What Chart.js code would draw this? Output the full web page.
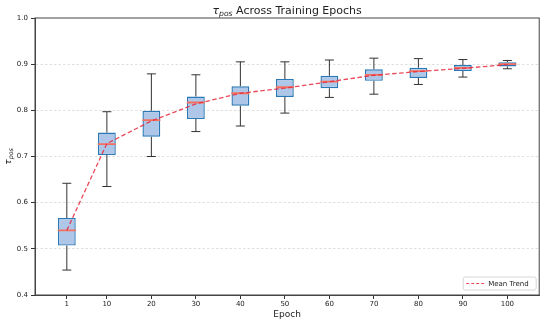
<!DOCTYPE html>
<html>
<head>
<meta charset="utf-8">
<script src="https://cdn.jsdelivr.net/npm/chart.js@4.4.0/dist/chart.umd.min.js"></script>
<style>
  html, body { margin: 0; padding: 0; background: #fff; }
</style>
</head>
<body>
<canvas id="tauChart" width="550" height="323"></canvas>
<script>
// box plot stats per epoch
const epochs = [1, 10, 20, 30, 40, 50, 60, 70, 80, 90, 100];
const whiskerLow  = [0.454, 0.635, 0.700, 0.754, 0.766, 0.794, 0.828, 0.835, 0.856, 0.872, 0.890];
const q1          = [0.507, 0.703, 0.743, 0.781, 0.810, 0.829, 0.848, 0.864, 0.870, 0.885, 0.895];
const medians     = [0.540, 0.727, 0.779, 0.817, 0.837, 0.850, 0.862, 0.877, 0.885, 0.892, 0.900];
const q3          = [0.567, 0.752, 0.799, 0.830, 0.852, 0.868, 0.875, 0.889, 0.892, 0.898, 0.904];
const whiskerHigh = [0.642, 0.797, 0.879, 0.877, 0.905, 0.905, 0.909, 0.913, 0.912, 0.910, 0.908];
const meanTrend   = [0.540, 0.728, 0.777, 0.814, 0.837, 0.848, 0.862, 0.876, 0.884, 0.891, 0.899];
const yTicks = [0.4, 0.5, 0.6, 0.7, 0.8, 0.9, 1.0];

const FONT = 'DejaVu Sans';
const TREND_COLOR = 'rgba(232, 40, 60, 0.85)';

const boxData = epochs.map((e, i) => ({ x: e, y: [q1[i], q3[i]] }));
const whiskerData = epochs.flatMap((e, i) => [
  { x: e, y: [whiskerLow[i], q1[i]] },
  { x: e, y: [q3[i], whiskerHigh[i]] }
]);
const capData = epochs.flatMap((e, i) => [
  { x: e, y: whiskerLow[i] },
  { x: e, y: whiskerHigh[i] }
]);
const medianData = epochs.map((e, i) => ({ x: e, y: medians[i] }));
const trendData = epochs.map((e, i) => ({ x: e, y: meanTrend[i] }));

// draws "τ_pos" (+ optional trailing text) centred on cx
function drawTauText(ctx, cx, cy, size, rest) {
  const big = 'italic ' + size + 'px "' + FONT + '"';
  const plain = size + 'px "' + FONT + '"';
  const small = 'italic ' + (size * 0.7) + 'px "' + FONT + '"';
  ctx.font = big;
  const wT = ctx.measureText('τ').width;
  ctx.font = small;
  const wS = ctx.measureText('pos').width;
  ctx.font = plain;
  const wR = rest ? ctx.measureText(rest).width : 0;
  let x = cx - (wT + wS + wR) / 2;
  const base = cy + size * 0.35;
  ctx.textAlign = 'left';
  ctx.textBaseline = 'alphabetic';
  ctx.font = big;
  ctx.fillText('τ', x, base);
  x += wT;
  ctx.font = small;
  ctx.fillText('pos', x, base + size * 0.22);
  x += wS;
  if (rest) {
    ctx.font = plain;
    ctx.fillText(rest, x, base);
  }
}

const decorations = {
  id: 'decorations',
  afterDraw(chart) {
    const { ctx, chartArea: a } = chart;
    ctx.save();
    // top / right spines
    ctx.strokeStyle = '#444';
    ctx.lineWidth = 1;
    ctx.strokeRect(a.left, a.top, a.right - a.left, a.bottom - a.top);

    ctx.fillStyle = '#222';
    drawTauText(ctx, (a.left + a.right) / 2, 10, 11, ' Across Training Epochs');

    ctx.save();
    ctx.translate(8, (a.top + a.bottom) / 2);
    ctx.rotate(-Math.PI / 2);
    drawTauText(ctx, 0, 0, 9, '');
    ctx.restore();

    // legend, lower right inside the axes
    const lw = 73, lh = 13;
    const lx = a.right - 3 - lw, ly = a.bottom - 5 - lh;
    ctx.beginPath();
    ctx.roundRect(lx, ly, lw, lh, 2);
    ctx.fillStyle = 'rgba(255,255,255,0.85)';
    ctx.fill();
    ctx.strokeStyle = '#d6d6d6';
    ctx.stroke();
    ctx.beginPath();
    ctx.setLineDash([3, 2]);
    ctx.strokeStyle = TREND_COLOR;
    ctx.lineWidth = 1.2;
    ctx.moveTo(lx + 3, ly + lh / 2);
    ctx.lineTo(lx + 21, ly + lh / 2);
    ctx.stroke();
    ctx.setLineDash([]);
    ctx.fillStyle = '#222';
    ctx.font = '7px "' + FONT + '"';
    ctx.textBaseline = 'middle';
    ctx.fillText('Mean Trend', lx + 25, ly + lh / 2 + 0.5);
    ctx.restore();
  }
};

const ctx = document.getElementById('tauChart').getContext('2d');
const tauChart = new Chart(ctx, {
  type: 'bar',
  data: {
    datasets: [
      {
        type: 'bar',
        label: 'whiskers',
        data: whiskerData,
        grouped: false,
        backgroundColor: '#333',
        borderWidth: 0,
        barPercentage: 0.025,
        categoryPercentage: 1,
        order: 6
      },
      {
        type: 'bar',
        label: 'boxes',
        data: boxData,
        grouped: false,
        backgroundColor: '#aec7e8',
        borderColor: '#2a78b6',
        borderWidth: 1.4,
        borderSkipped: false,
        barPercentage: 4 / 9,
        categoryPercentage: 1,
        order: 5
      },
      {
        type: 'scatter',
        label: 'caps',
        data: capData,
        pointStyle: 'line',
        radius: 4.5,
        borderColor: '#333',
        borderWidth: 1,
        order: 4
      },
      {
        type: 'scatter',
        label: 'medians',
        data: medianData,
        pointStyle: 'line',
        radius: 9,
        borderColor: '#f5705f',
        borderWidth: 1.8,
        order: 3
      },
      {
        type: 'line',
        label: 'Mean Trend',
        data: trendData,
        borderColor: TREND_COLOR,
        borderWidth: 1.3,
        borderDash: [4.5, 2.5],
        pointRadius: 0,
        fill: false,
        order: 1
      }
    ]
  },
  options: {
    responsive: false,
    animation: false,
    events: [],
    layout: { padding: { top: 18, right: 7, left: 0, bottom: 0 } },
    plugins: {
      legend: { display: false },
      tooltip: { enabled: false },
      title: { display: false }
    },
    scales: {
      x: {
        type: 'linear',
        min: -6.15,
        max: 107.15,
        offset: false,
        afterBuildTicks: s => { s.ticks = epochs.map(v => ({ value: v })); },
        afterFit: s => { s.height = 28; },
        ticks: {
          autoSkip: false,
          maxRotation: 0,
          padding: 1,
          color: '#222',
          font: { family: FONT, size: 7 },
          callback: v => String(v)
        },
        grid: {
          offset: false,
          drawOnChartArea: false,
          tickLength: 4,
          tickColor: '#333',
          tickWidth: 1
        },
        border: { color: '#444', width: 1 },
        title: {
          display: true,
          text: 'Epoch',
          color: '#222',
          font: { family: FONT, size: 9 },
          padding: { top: 0, bottom: 3 }
        }
      },
      y: {
        min: 0.4,
        max: 1.0,
        afterBuildTicks: s => { s.ticks = yTicks.map(v => ({ value: v })); },
        afterFit: s => { s.width = 35; },
        ticks: {
          padding: 3,
          color: '#222',
          font: { family: FONT, size: 7 },
          callback: v => v.toFixed(1)
        },
        grid: {
          color: c => (c.tick && (c.tick.value <= 0.4 || c.tick.value >= 1.0)) ? 'rgba(0,0,0,0)' : 'rgba(0,0,0,0.16)',
          lineWidth: 0.8,
          tickLength: 4,
          tickColor: '#333',
          tickWidth: 1,
          tickBorderDash: []
        },
        border: { color: '#444', width: 1, dash: [2.5, 2] }
      }
    }
  },
  plugins: [decorations]
});
</script>
</body>
</html>
